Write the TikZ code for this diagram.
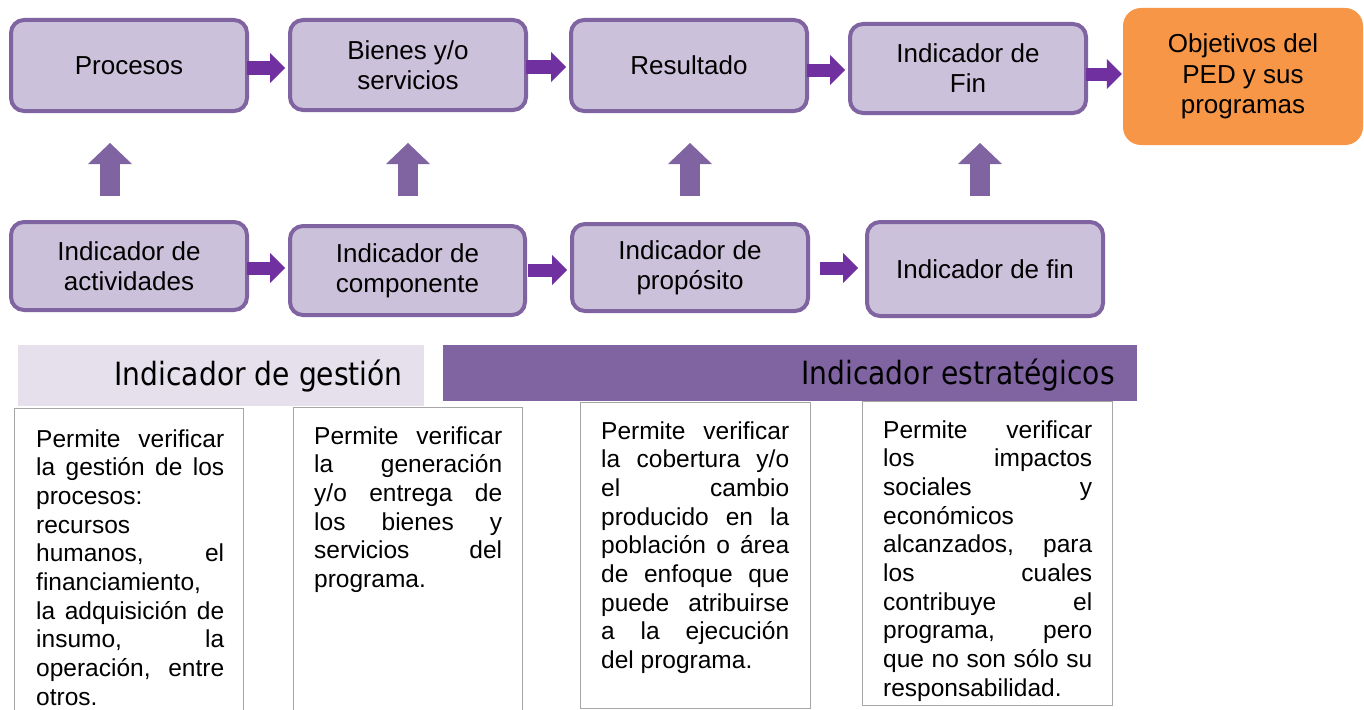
\documentclass[tikz,border=0pt]{standalone}
\usepackage{fontspec}
\setmainfont{Liberation Sans}
\newfontfamily\barfont{DejaVu Sans}[FakeStretch=0.88]
\usetikzlibrary{arrows.meta,calc}
\definecolor{boxfill}{HTML}{CCC1DA}
\definecolor{boxline}{HTML}{8064A2}
\definecolor{arrowpurple}{HTML}{7030A0}
\definecolor{orangefill}{HTML}{F79646}
\definecolor{lightbar}{HTML}{E5E0EC}
\definecolor{txtline}{HTML}{A6A6A6}
\newlength\tbw
\newcommand\jl[1]{\makebox[\tbw][s]{#1}\\}
\newcommand\lline[1]{\makebox[\tbw][l]{#1}\\}
\begin{document}
\begin{tikzpicture}[x=1pt,y=-1pt,
  flowbox/.style={draw=boxline, line width=4pt, fill=boxfill, rounded corners=13pt,
    inner sep=0pt, align=center, font=\fontsize{26}{30}\selectfont},
  goalbox/.style={fill=orangefill, rounded corners=18pt, inner sep=0pt, align=center,
    font=\fontsize{26}{30.5}\selectfont},
  harrow/.style={draw=arrowpurple, line width=13pt,
    -{Triangle[length=15pt,width=30pt,line width=0pt]}},
  varrow/.style={draw=boxline, line width=20pt,
    -{Triangle[length=21pt,width=44pt,line width=0pt]}},
  txtbox/.style={draw=txtline, line width=1.2pt, fill=white, inner sep=0pt, anchor=north west},
  bartext/.style={anchor=base east, inner sep=0pt, font=\barfont\fontsize{32}{36}\selectfont},
  desc/.style={anchor=base west, inner sep=0pt, font=\fontsize{24.5}{28.7}\selectfont}
]
\path[use as bounding box] (0,0) rectangle (1364,709);
\clip (0,0) rectangle (1364,709);
\fill[white] (0,0) rectangle (1364,709);

% top row
\node[flowbox, minimum width=236pt, minimum height=91pt] (proc) at (129,65.5) {Procesos};
\node[flowbox, minimum width=236pt, minimum height=90pt] (bien) at (408,65) {Bienes y/o\\servicios};
\node[flowbox, minimum width=236pt, minimum height=91pt] (res) at (689,65.5) {Resultado};
\node[flowbox, minimum width=236pt, minimum height=89pt] (fin) at (968,68.5) {Indicador de\\Fin};
\node[goalbox, minimum width=240pt, minimum height=137pt] (obj) at (1243,76.5) {Objetivos del\\PED y sus\\programas};

% bottom row
\node[flowbox, minimum width=236pt, minimum height=88pt] (act) at (129,266) {Indicador de\\actividades};
\node[flowbox, minimum width=235pt, minimum height=89pt] (comp) at (407.5,270.5) {Indicador de\\componente};
\node[flowbox, minimum width=236pt, minimum height=87pt] (prop) at (690,267.5) {Indicador de\\propósito};
\node[flowbox, minimum width=236pt, minimum height=94pt] (finb) at (985,269) {Indicador de fin};

% horizontal arrows, top
\draw[harrow, shorten <=-2pt, shorten >=3pt] ([yshift=-2.5pt]proc.east) -- ([yshift=-3pt]bien.west);
\draw[harrow, shorten <=-2pt, shorten >=3pt] ([yshift=-2pt]bien.east) -- ([yshift=-1.5pt]res.west);
\draw[harrow, shorten <=-2pt, shorten >=3pt] ([yshift=-4.5pt]res.east) -- ([yshift=-1.5pt]fin.west);
\draw[harrow, shorten <=-2pt, shorten >=1pt] ([yshift=-5.5pt]fin.east) -- ([yshift=2.5pt]obj.west);

% horizontal arrows, bottom
\draw[harrow, shorten <=-2pt, shorten >=3pt] ([yshift=-2pt]act.east) -- ([yshift=2.5pt]comp.west);
\draw[harrow, shorten <=1pt, shorten >=3pt] ([yshift=0.5pt]comp.east) -- ([yshift=-2.5pt]prop.west);
\draw[harrow, shorten <=10pt, shorten >=7pt] ([yshift=-0.5pt]prop.east) -- ([yshift=1pt]finb.west);

% vertical arrows
\draw[varrow] ([xshift=-19pt,yshift=24pt]act.north) -- ([xshift=-19pt,yshift=-30pt]proc.south);
\draw[varrow] ([xshift=0.5pt,yshift=28pt]comp.north) -- ([yshift=-31pt]bien.south);
\draw[varrow] ([yshift=26pt]prop.north) -- ([xshift=1pt,yshift=-30pt]res.south);
\draw[varrow] ([xshift=-5pt,yshift=24pt]finb.north) -- ([xshift=12pt,yshift=-28pt]fin.south);

% category bars
\node[fill=lightbar, anchor=north west, minimum width=406pt, minimum height=61pt, inner sep=0pt] (gbar) at (18,345) {};
\node[fill=boxline, anchor=north west, minimum width=694pt, minimum height=56pt, inner sep=0pt] (ebar) at (443,345) {};
\node[bartext] (gtxt) at (403,385) {Indicador de gestión};
\node[bartext] (etxt) at (1115,384) {Indicador estratégicos};

% description boxes
\node[txtbox, minimum width=229pt, minimum height=330pt] (tb1) at (14,408) {};
\node[txtbox, minimum width=229pt, minimum height=330pt] (tb2) at (293,407) {};
\node[txtbox, minimum width=230pt, minimum height=306pt] (tb3) at (580,402) {};
\node[txtbox, minimum width=250pt, minimum height=304pt] (tb4) at (862,401) {};

\node[desc] (d1) at (36,447) {\setlength\tbw{188pt}\parbox[t]{\tbw}{%
\jl{Permite verificar}
\jl{la gestión de los}
\lline{procesos:}
\lline{recursos}
\jl{humanos, el}
\lline{financiamiento,}
\jl{la adquisición de}
\jl{insumo, la}
\jl{operación, entre}
otros.}};

\node[desc] (d2) at (314,444) {\setlength\tbw{188pt}\parbox[t]{\tbw}{%
\jl{Permite verificar}
\jl{la generación}
\jl{y/o entrega de}
\jl{los bienes y}
\jl{servicios del}
programa.}};

\node[desc] (d3) at (601,439) {\setlength\tbw{188pt}\parbox[t]{\tbw}{%
\jl{Permite verificar}
\jl{la cobertura y/o}
\jl{el cambio}
\jl{producido en la}
\jl{población o área}
\jl{de enfoque que}
\jl{puede atribuirse}
\jl{a la ejecución}
del programa.}};

\node[desc] (d4) at (883,438) {\setlength\tbw{209pt}\parbox[t]{\tbw}{%
\jl{Permite verificar}
\jl{los impactos}
\jl{sociales y}
\lline{económicos}
\jl{alcanzados, para}
\jl{los cuales}
\jl{contribuye el}
\jl{programa, pero}
\jl{que no son sólo su}
responsabilidad.}};
\end{tikzpicture}
\end{document}
